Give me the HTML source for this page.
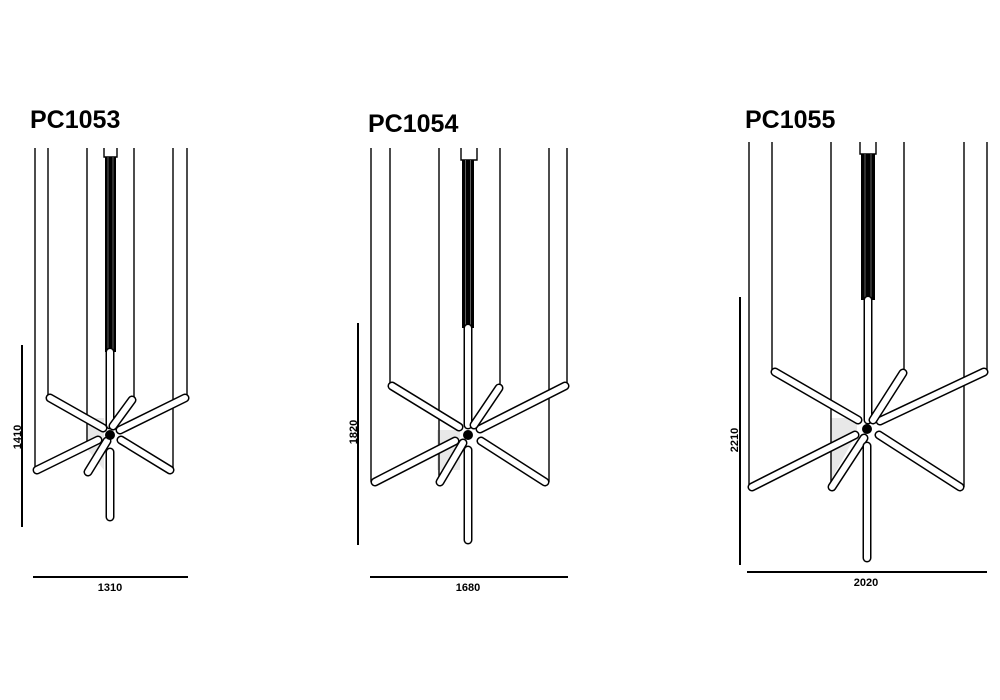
<!DOCTYPE html>
<html><head><meta charset="utf-8"><style>
html,body{margin:0;padding:0;background:#fff;}
svg{display:block;}
.t{font-family:"Liberation Sans",sans-serif;font-weight:bold;fill:#000;}
.w{stroke:#000;stroke-width:1.4;fill:none;}
.to{stroke:#000;stroke-width:9;stroke-linecap:round;}
.ti{stroke:#fff;stroke-width:6;stroke-linecap:round;}
.d{stroke:#000;stroke-width:2;}
</style></head><body>
<svg width="1000" height="700" viewBox="0 0 1000 700" xmlns="http://www.w3.org/2000/svg">
<rect width="1000" height="700" fill="#fff"/>

<!-- ===== PC1053 ===== -->
<text class="t" x="30" y="128" font-size="25">PC1053</text>
<polygon points="88,418 104,418 104,470 88,450" fill="#e8e8e8"/>
<g class="w">
<line x1="35" y1="148" x2="35" y2="470"/>
<line x1="48" y1="148" x2="48" y2="398"/>
<line x1="87" y1="148" x2="87" y2="442"/>
<line x1="134" y1="148" x2="134" y2="398"/>
<line x1="173" y1="148" x2="173" y2="470"/>
<line x1="187" y1="148" x2="187" y2="398"/>
</g>
<path d="M104,148 V157 H117 V148" class="w"/>
<rect x="105" y="157" width="11" height="195" fill="#000"/>
<line x1="108" y1="157" x2="108" y2="352" stroke="#777" stroke-width="0.8"/>
<line x1="113" y1="157" x2="113" y2="352" stroke="#777" stroke-width="0.8"/>
<g>
<line class="to" x1="110" y1="352" x2="110" y2="425"/><line class="ti" x1="110" y1="352" x2="110" y2="425"/>
<line class="to" x1="50" y1="398" x2="103" y2="428"/><line class="ti" x1="50" y1="398" x2="103" y2="428"/>
<line class="to" x1="185" y1="398" x2="120" y2="430"/><line class="ti" x1="185" y1="398" x2="120" y2="430"/>
<line class="to" x1="132" y1="400" x2="113" y2="426"/><line class="ti" x1="132" y1="400" x2="113" y2="426"/>
<line class="to" x1="37" y1="470" x2="98" y2="440"/><line class="ti" x1="37" y1="470" x2="98" y2="440"/>
<line class="to" x1="88" y1="472" x2="107" y2="441"/><line class="ti" x1="88" y1="472" x2="107" y2="441"/>
<line class="to" x1="170" y1="470" x2="121" y2="440"/><line class="ti" x1="170" y1="470" x2="121" y2="440"/>
<line class="to" x1="110" y1="452" x2="110" y2="517"/><line class="ti" x1="110" y1="452" x2="110" y2="517"/>
</g>
<circle cx="110" cy="435" r="5" fill="#000"/>
<line class="d" x1="22" y1="345" x2="22" y2="527"/>
<text class="t" font-size="11" transform="translate(21,437) rotate(-90)" text-anchor="middle">1410</text>
<line class="d" x1="33" y1="577" x2="188" y2="577"/>
<text class="t" font-size="11" x="110" y="591" text-anchor="middle">1310</text>

<!-- ===== PC1054 ===== -->
<text class="t" x="368" y="132" font-size="25">PC1054</text>
<polygon points="437,430 460,430 460,470 437,470" fill="#e8e8e8"/>
<g class="w">
<line x1="371" y1="148" x2="371" y2="482"/>
<line x1="390" y1="148" x2="390" y2="386"/>
<line x1="439" y1="148" x2="439" y2="482"/>
<line x1="500" y1="148" x2="500" y2="387"/>
<line x1="549" y1="148" x2="549" y2="482"/>
<line x1="567" y1="148" x2="567" y2="386"/>
</g>
<path d="M461,148 V160 H477 V148" class="w"/>
<rect x="462" y="160" width="12" height="168" fill="#000"/>
<line x1="465.5" y1="160" x2="465.5" y2="328" stroke="#777" stroke-width="0.8"/>
<line x1="470.5" y1="160" x2="470.5" y2="328" stroke="#777" stroke-width="0.8"/>
<g>
<line class="to" x1="468" y1="328" x2="468" y2="425"/><line class="ti" x1="468" y1="328" x2="468" y2="425"/>
<line class="to" x1="392" y1="386" x2="459" y2="427"/><line class="ti" x1="392" y1="386" x2="459" y2="427"/>
<line class="to" x1="565" y1="386" x2="480" y2="429"/><line class="ti" x1="565" y1="386" x2="480" y2="429"/>
<line class="to" x1="499" y1="388" x2="474" y2="425"/><line class="ti" x1="499" y1="388" x2="474" y2="425"/>
<line class="to" x1="375" y1="482" x2="455" y2="441"/><line class="ti" x1="375" y1="482" x2="455" y2="441"/>
<line class="to" x1="440" y1="482" x2="463" y2="443"/><line class="ti" x1="440" y1="482" x2="463" y2="443"/>
<line class="to" x1="545" y1="482" x2="481" y2="441"/><line class="ti" x1="545" y1="482" x2="481" y2="441"/>
<line class="to" x1="468" y1="450" x2="468" y2="540"/><line class="ti" x1="468" y1="450" x2="468" y2="540"/>
</g>
<circle cx="468" cy="435" r="5" fill="#000"/>
<line class="d" x1="358" y1="323" x2="358" y2="545"/>
<text class="t" font-size="11" transform="translate(357,432) rotate(-90)" text-anchor="middle">1820</text>
<line class="d" x1="370" y1="577" x2="568" y2="577"/>
<text class="t" font-size="11" x="468" y="591" text-anchor="middle">1680</text>

<!-- ===== PC1055 ===== -->
<text class="t" x="745" y="128" font-size="25">PC1055</text>
<polygon points="831,418 857,418 857,433 831,480" fill="#e8e8e8"/>
<g class="w">
<line x1="749" y1="142" x2="749" y2="487"/>
<line x1="772" y1="142" x2="772" y2="372"/>
<line x1="831" y1="142" x2="831" y2="487"/>
<line x1="904" y1="142" x2="904" y2="372"/>
<line x1="964" y1="142" x2="964" y2="487"/>
<line x1="987" y1="142" x2="987" y2="372"/>
</g>
<path d="M860,142 V154 H876 V142" class="w"/>
<rect x="861" y="154" width="14" height="146" fill="#000"/>
<line x1="865" y1="154" x2="865" y2="300" stroke="#777" stroke-width="0.8"/>
<line x1="871" y1="154" x2="871" y2="300" stroke="#777" stroke-width="0.8"/>
<g>
<line class="to" x1="868" y1="300" x2="868" y2="420"/><line class="ti" x1="868" y1="300" x2="868" y2="420"/>
<line class="to" x1="775" y1="372" x2="858" y2="420"/><line class="ti" x1="775" y1="372" x2="858" y2="420"/>
<line class="to" x1="984" y1="372" x2="880" y2="421"/><line class="ti" x1="984" y1="372" x2="880" y2="421"/>
<line class="to" x1="903" y1="373" x2="873" y2="420"/><line class="ti" x1="903" y1="373" x2="873" y2="420"/>
<line class="to" x1="752" y1="487" x2="855" y2="435"/><line class="ti" x1="752" y1="487" x2="855" y2="435"/>
<line class="to" x1="832" y1="487" x2="864" y2="438"/><line class="ti" x1="832" y1="487" x2="864" y2="438"/>
<line class="to" x1="960" y1="487" x2="879" y2="435"/><line class="ti" x1="960" y1="487" x2="879" y2="435"/>
<line class="to" x1="867" y1="446" x2="867" y2="558"/><line class="ti" x1="867" y1="446" x2="867" y2="558"/>
</g>
<circle cx="867" cy="429" r="5" fill="#000"/>
<line class="d" x1="740" y1="297" x2="740" y2="565"/>
<text class="t" font-size="11" transform="translate(738,440) rotate(-90)" text-anchor="middle">2210</text>
<line class="d" x1="747" y1="572" x2="987" y2="572"/>
<text class="t" font-size="11" x="866" y="586" text-anchor="middle">2020</text>
</svg>
</body></html>
